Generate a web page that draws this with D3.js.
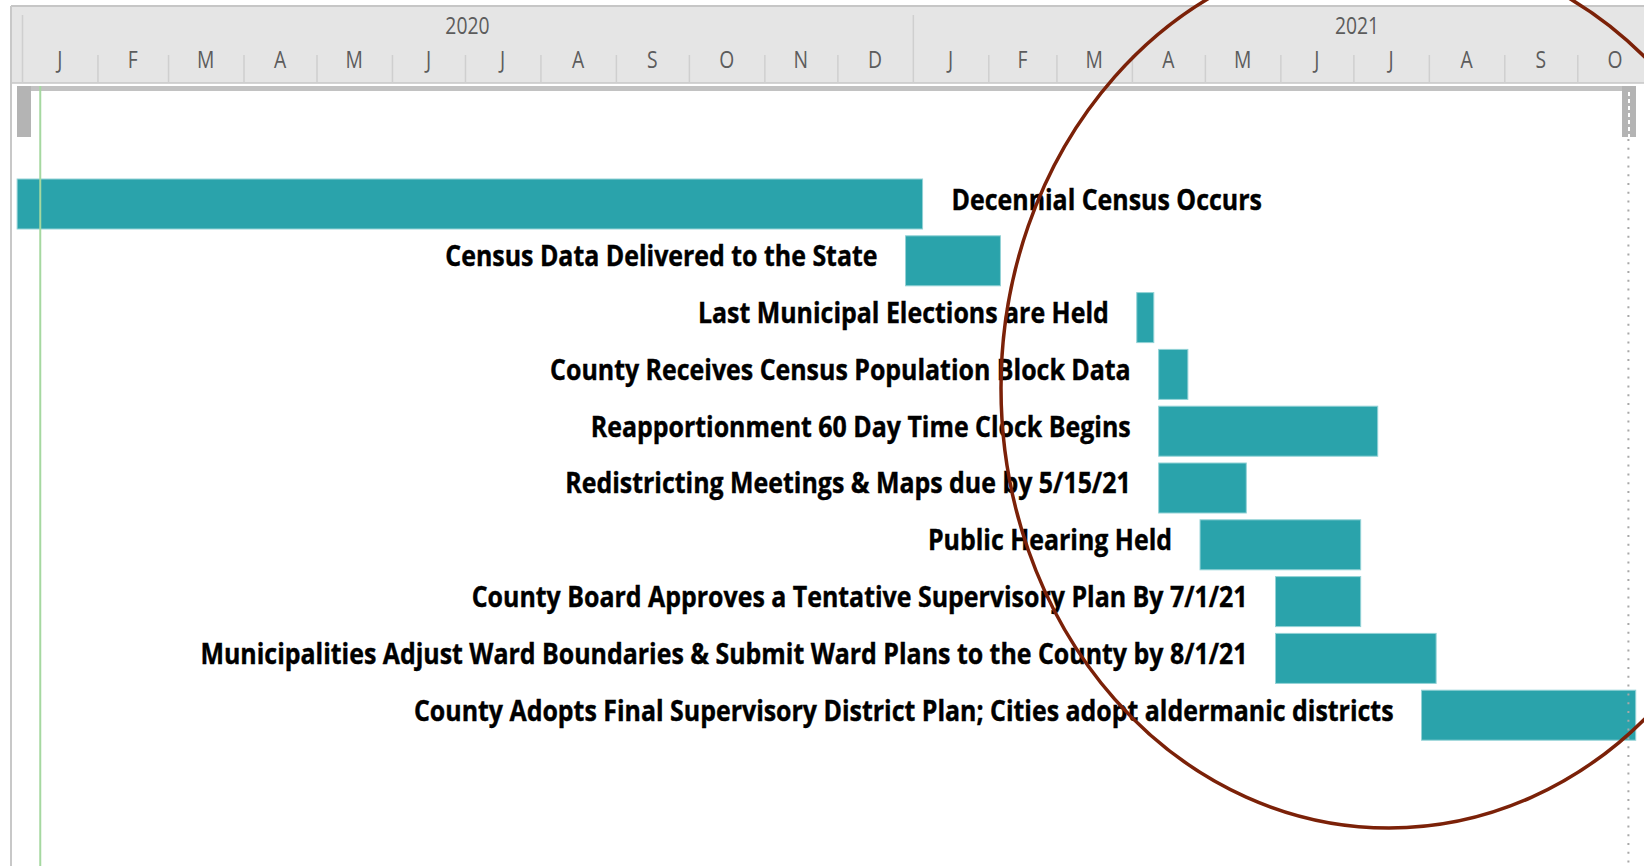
<!DOCTYPE html>
<html lang="en">
<head>
<meta charset="utf-8">
<title>Redistricting timeline</title>
<script src="https://d3js.org/d3.v7.min.js"></script>
<style>
  body { margin: 0; background: #fff; }
  svg { display: block; }
</style>
</head>
<body>
<script>
const width = 1644;
const height = 866;

// tasks, top to bottom
const tasks = [
  "Decennial Census Occurs",
  "Census Data Delivered to the State",
  "Last Municipal Elections are Held",
  "County Receives Census Population Block Data",
  "Reapportionment 60 Day Time Clock Begins",
  "Redistricting Meetings & Maps due by 5/15/21",
  "Public Hearing Held",
  "County Board Approves a Tentative Supervisory Plan By 7/1/21",
  "Municipalities Adjust Ward Boundaries & Submit Ward Plans to the County by 8/1/21",
  "County Adopts Final Supervisory District Plan; Cities adopt aldermanic districts"
];
const starts = ["2019-12-30", "2020-12-29", "2021-04-03", "2021-04-12", "2021-04-12",
                "2021-04-12", "2021-04-29", "2021-05-30", "2021-05-30", "2021-07-29"];
const ends   = ["2021-01-05", "2021-02-06", "2021-04-10", "2021-04-24", "2021-07-11",
                "2021-05-18", "2021-07-04", "2021-07-04", "2021-08-04", "2021-10-25"];

const monthLetters = ["J", "F", "M", "A", "M", "J", "J", "A", "S", "O", "N", "D"];
const years = [2020, 2021];
const todayDate = "2020-01-08T12:00";
const finishDate = "2021-10-22";

const parse = s => new Date(s + (s.length == 10 ? "T00:00Z" : "Z"));

const svg = d3.select("body").append("svg")
  .attr("width", width)
  .attr("height", height);

const x = d3.scaleUtc()
  .domain([parse("2020-01-01"), parse("2021-10-01")])
  .range([22, 1577.3]);

const y = d3.scaleBand()
  .domain(tasks)
  .range([179, 740.2])
  .paddingInner(0.1197)
  .paddingOuter(0);

const left = 11, headTop = 6, headBottom = 83;
const textScale = 0.84;
const labelScale = 0.89;

// header band
svg.append("rect")
  .attr("x", left).attr("y", headTop)
  .attr("width", width - left).attr("height", headBottom - headTop)
  .attr("fill", "#e5e5e5");
svg.append("line")
  .attr("x1", left).attr("x2", width).attr("y1", headTop).attr("y2", headTop)
  .attr("stroke", "#c6c6c6").attr("stroke-width", 2);
svg.append("line")
  .attr("x1", left).attr("x2", width).attr("y1", headBottom).attr("y2", headBottom)
  .attr("stroke", "#c6c6c6").attr("stroke-width", 1.5);

const viewStart = x.invert(left), viewEnd = x.invert(width);
const months = d3.utcMonth.range(d3.utcMonth.floor(viewStart), viewEnd);
const midMonth = d => (x(d) + x(d3.utcMonth.offset(d, 1))) / 2;

// month separators (short) and year separators (tall)
const monthAxis = d3.axisBottom(x)
  .tickValues(months.filter(d => d.getUTCMonth() != 0))
  .tickSize(-28).tickFormat("");
const yearAxis = d3.axisBottom(x)
  .tickValues(months.filter(d => d.getUTCMonth() == 0))
  .tickSize(-68).tickFormat("");
[monthAxis, yearAxis].forEach(ax => {
  const g = svg.append("g")
    .attr("transform", "translate(0," + headBottom + ")")
    .call(ax);
  g.select(".domain").remove();
  g.selectAll(".tick line").attr("stroke", "#cfcfcf").attr("stroke-width", 1.5);
});

// month letters
svg.append("g").selectAll("g")
  .data(months.filter(d => midMonth(d) > left + 10 && midMonth(d) < width - 10))
  .join("g")
  .attr("transform", d => "translate(" + midMonth(d) + ",68) scale(" + textScale + ",1)")
  .append("text")
  .attr("text-anchor", "middle")
  .attr("font-family", "Open Sans, sans-serif")
  .attr("font-size", 23)
  .attr("fill", "#5c5c5c")
  .text(d => monthLetters[d.getUTCMonth()]);

// year labels
svg.append("g").selectAll("g")
  .data(years)
  .join("g")
  .attr("transform", d => "translate(" + (x(parse(d + "-01-01")) + x(parse((d + 1) + "-01-01"))) / 2 + ",34) scale(" + textScale + ",1)")
  .append("text")
  .attr("text-anchor", "middle")
  .attr("font-family", "Open Sans, sans-serif")
  .attr("font-size", 23)
  .attr("fill", "#5c5c5c")
  .text(d => d);

// timescale bar with handles
svg.append("rect")
  .attr("x", 17).attr("y", 86).attr("width", 1619).attr("height", 5)
  .attr("fill", "#c2c2c2");
svg.append("rect")
  .attr("x", 17).attr("y", 86).attr("width", 14).attr("height", 51)
  .attr("fill", "#b4b4b4");
svg.append("rect")
  .attr("x", 1622).attr("y", 86).attr("width", 14).attr("height", 51)
  .attr("fill", "#b4b4b4");
svg.append("line")
  .attr("x1", 1629).attr("x2", 1629).attr("y1", 92).attr("y2", 137)
  .attr("stroke", "#fff").attr("stroke-width", 2).attr("stroke-dasharray", "4,3");

// bars
svg.append("g").selectAll("rect")
  .data(tasks)
  .join("rect")
  .attr("x", (d, i) => x(parse(starts[i])))
  .attr("y", d => y(d))
  .attr("width", (d, i) => x(parse(ends[i])) - x(parse(starts[i])))
  .attr("height", y.bandwidth())
  .attr("fill", "#2aa3ab")
  .attr("stroke", "#93d2d6")
  .attr("stroke-width", 1);

// task labels: left of the bar, or right of it when the bar starts at the edge
const onRight = i => x(parse(starts[i])) < 100;
svg.append("g").selectAll("g")
  .data(tasks)
  .join("g")
  .attr("transform", (d, i) => {
    const tx = onRight(i) ? x(parse(ends[i])) + 29 : x(parse(starts[i])) - 28;
    return "translate(" + tx + "," + (y(d) + y.bandwidth() / 2 + 5.5) + ") scale(" + labelScale + ",1)";
  })
  .append("text")
  .attr("text-anchor", (d, i) => onRight(i) ? "start" : "end")
  .attr("font-family", "Open Sans, sans-serif")
  .attr("font-weight", "bold")
  .attr("font-size", 28)
  .attr("fill", "#000")
  .attr("stroke", "#000")
  .attr("stroke-width", 0.4)
  .text(d => d);

// left border, today line, finish line
svg.append("line")
  .attr("x1", left).attr("x2", left).attr("y1", headTop).attr("y2", height)
  .attr("stroke", "#c8c8c8").attr("stroke-width", 2);
svg.append("line")
  .attr("x1", x(parse(todayDate))).attr("x2", x(parse(todayDate)))
  .attr("y1", 86).attr("y2", height)
  .attr("stroke", "#a5d8a0").attr("stroke-width", 2);
svg.append("line")
  .attr("x1", x(parse(finishDate))).attr("x2", x(parse(finishDate)))
  .attr("y1", 139).attr("y2", height)
  .attr("stroke", "#a8a8a8").attr("stroke-width", 2).attr("stroke-dasharray", "2,6.8");

// hand-drawn style highlight
svg.append("ellipse")
  .attr("cx", 1389).attr("cy", 388)
  .attr("rx", 388).attr("ry", 440)
  .attr("fill", "none")
  .attr("stroke", "#7b2108")
  .attr("stroke-width", 3.5);
</script>
</body>
</html>
